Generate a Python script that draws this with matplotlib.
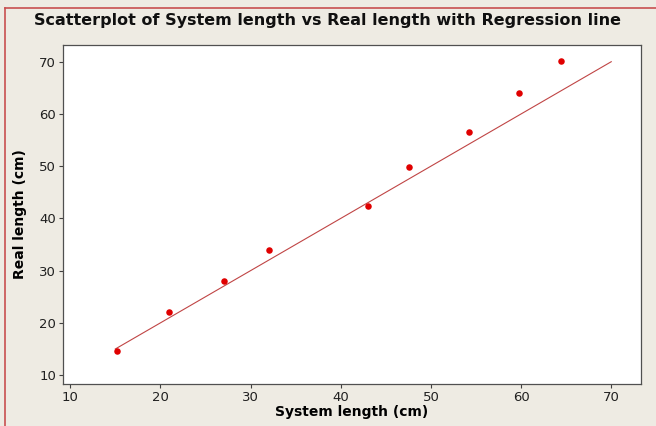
import matplotlib
matplotlib.use("Agg")
import matplotlib.pyplot as plt
from matplotlib.lines import Line2D

# data
system_length = [15.2, 20.9, 27.1, 32.1, 43.0, 47.6, 54.2, 59.8, 64.4]
real_length = [14.6, 22.0, 28.1, 33.9, 42.3, 49.9, 56.5, 64.0, 70.1]
line_x = [15.0, 70.0]
line_y = [15.0, 70.0]
ticks = [10, 20, 30, 40, 50, 60, 70]

bg = "#eeebe3"
fig = plt.figure(figsize=(6.56, 4.26), dpi=100, facecolor=bg)
ax = fig.add_axes([63 / 656, 1 - 384 / 426, (641 - 63) / 656, (384 - 45) / 426])
ax.set_facecolor("white")

ax.plot(line_x, line_y, color="#c04545", linewidth=0.8, zorder=2)
ax.scatter(system_length, real_length, s=22, color="#e00000", zorder=3, linewidths=0)

ax.set_xlim(9.2, 73.3)
ax.set_ylim(8.3, 73.2)
ax.set_xticks(ticks)
ax.set_yticks(ticks)
ax.tick_params(direction="out", length=3, width=0.8, color="#404040",
               labelsize=9.5, pad=2, labelcolor="#202020")
for s in ax.spines.values():
    s.set_color("#505050")
    s.set_linewidth(0.9)

ax.set_xlabel("System length (cm)", fontsize=10, fontweight="bold", labelpad=1)
ax.set_ylabel("Real length (cm)", fontsize=10, fontweight="bold", labelpad=9)
fig.text(0.5, 1 - 20 / 426, "Scatterplot of System length vs Real length with Regression line",
         ha="center", va="center", fontsize=11.5, fontweight="bold", color="#101010")

# red frame only on the top and left edges (image is cropped on the others)
top = 1 - 7.5 / 426
left = 4.5 / 656
fig.add_artist(Line2D([left, 1], [top, top], transform=fig.transFigure,
                      color="#c85050", linewidth=1.2))
fig.add_artist(Line2D([left, left], [0, top], transform=fig.transFigure,
                      color="#c85050", linewidth=1.2))

fig.savefig("out.png", dpi=100, facecolor=bg)
